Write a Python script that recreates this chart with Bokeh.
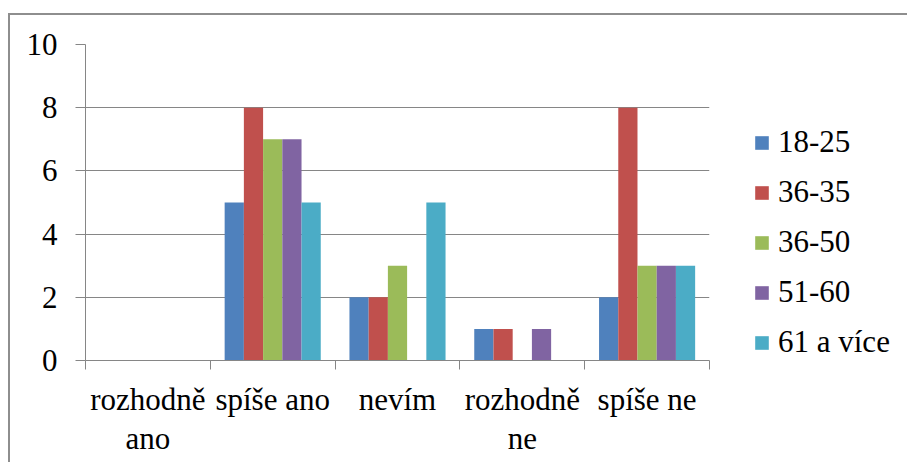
import numpy as np
from bokeh.plotting import figure
from bokeh.models import Range1d, FixedTicker, Legend, LegendItem
from bokeh.embed import file_html
from bokeh.resources import INLINE

categories = ["rozhodně\nano", "spíše ano", "nevím", "rozhodně\nne", "spíše ne"]
series_names = ["18-25", "36-35", "36-50", "51-60", "61 a více"]
s1825 = [0, 5, 2, 1, 2]
s3635 = [0, 8, 2, 1, 8]
s3650 = [0, 7, 3, 0, 3]
s5160 = [0, 7, 0, 1, 3]
s61 = [0, 5, 5, 0, 3]
series_values = [s1825, s3635, s3650, s5160, s61]
colors = ["#4F81BD", "#C0504D", "#9BBB59", "#8064A2", "#4BACC6"]
y_ticks = [0, 2, 4, 6, 8, 10]

FONT = "Liberation Serif"
GRAY = "#868686"

p = figure(frame_width=624, frame_height=316, output_backend="svg", toolbar_location=None,
           x_range=Range1d(0, len(categories)), y_range=Range1d(0, 10),
           min_border_left=75, min_border_right=198, min_border_top=29, min_border_bottom=102)
p.margin = (13, 0, 0, 8)
p.styles = {"border-top": "2px solid #8e8e8e", "border-left": "2px solid #8e8e8e"}
p.outline_line_color = None
p.background_fill_color = "white"
p.border_fill_color = "white"

n = len(series_names)
bw = 0.154
centers = np.arange(len(categories)) + 0.5
items = []
for i, (name, vals, c) in enumerate(zip(series_names, series_values, colors)):
    off = (i - (n - 1) / 2) * bw
    r = p.vbar(x=centers + off, top=vals, bottom=0, width=bw, fill_color=c, line_color=None)
    items.append(LegendItem(label=name, renderers=[r]))

# x axis
xt = FixedTicker(ticks=list(centers), minor_ticks=list(range(len(categories) + 1)))
p.xaxis.ticker = xt
p.xaxis.major_label_overrides = {float(c): lab for c, lab in zip(centers, categories)}
p.xaxis.major_tick_out = 0
p.xaxis.major_tick_in = 0
p.xaxis.minor_tick_out = 9
p.xaxis.minor_tick_in = 0
p.xaxis.minor_tick_line_color = GRAY
p.xaxis.axis_line_color = GRAY
p.xaxis.major_label_text_font = FONT
p.xaxis.major_label_text_font_size = "31px"
p.xaxis.major_label_text_color = "black"
p.xaxis.major_label_text_line_height = 1.13
p.xaxis.major_label_standoff = 12
p.xgrid.grid_line_color = None

# y axis
p.yaxis.ticker = FixedTicker(ticks=y_ticks)
p.yaxis.major_tick_out = 10
p.yaxis.major_tick_in = 0
p.yaxis.minor_tick_line_color = None
p.yaxis.major_tick_line_color = GRAY
p.yaxis.axis_line_color = GRAY
p.yaxis.major_label_text_font = FONT
p.yaxis.major_label_text_font_size = "31px"
p.yaxis.major_label_text_color = "black"
p.yaxis.major_label_standoff = 18
p.ygrid.grid_line_color = GRAY
p.ygrid.ticker = FixedTicker(ticks=y_ticks)

legend = Legend(items=items, location=(44, 0))
legend.label_text_font = FONT
legend.label_text_font_size = "31px"
legend.label_text_color = "black"
legend.glyph_width = 17
legend.glyph_height = 17
legend.label_standoff = 8
legend.spacing = 14
legend.padding = 0
legend.margin = 0
legend.border_line_color = None
legend.background_fill_alpha = 0
p.add_layout(legend, "right")

open("out.html", "w").write(file_html(p, INLINE))
